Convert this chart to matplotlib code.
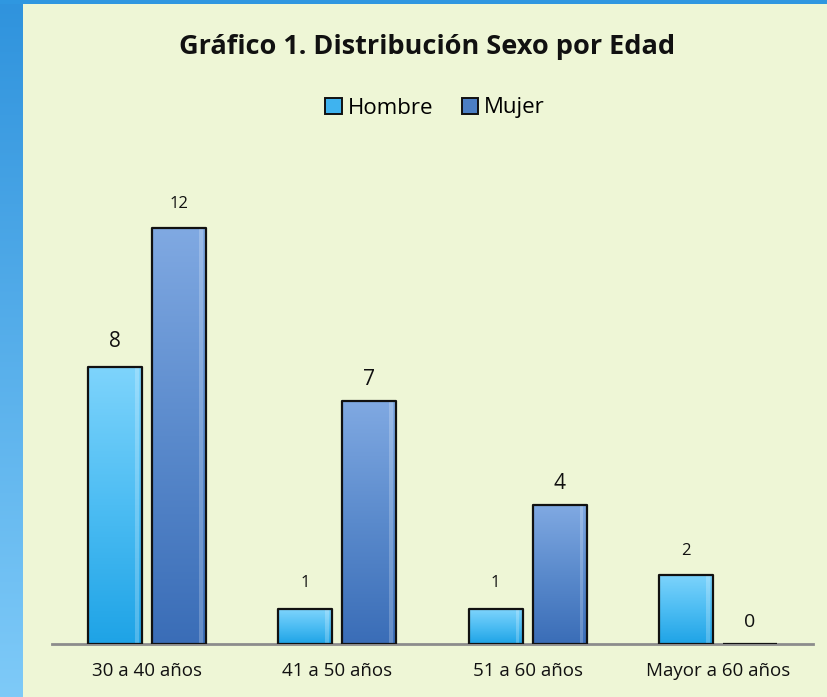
import numpy as np
import matplotlib
matplotlib.use("Agg")
import matplotlib.pyplot as plt
from matplotlib.patches import Patch
from matplotlib.colors import LinearSegmentedColormap

categories = ["30 a 40 años", "41 a 50 años", "51 a 60 años", "Mayor a 60 años"]
hombre = [8, 1, 1, 2]
mujer = [12, 7, 4, 0]
series_names = ["Hombre", "Mujer"]
title = "Gráfico 1. Distribución Sexo por Edad"

W, H = 828, 697
fig = plt.figure(figsize=(W / 100, H / 100), dpi=100)
bg = "#EEF6D6"
fig.patch.set_facecolor(bg)
FONT = ["Open Sans", "DejaVu Sans"]

# blue frame strips
grad = np.linspace(0, 1, 256).reshape(-1, 1)
strip_cmap = LinearSegmentedColormap.from_list("s", ["#2F93DD", "#7ECAF8"])
ax_l = fig.add_axes([0, 0, 23 / W, 1])
ax_l.imshow(grad, cmap=strip_cmap, aspect="auto", extent=[0, 1, 1, 0])
ax_l.axis("off")
ax_t = fig.add_axes([0, 1 - 4 / H, 1, 4 / H])
ax_t.set_facecolor("#2F97E0")
ax_t.set_xticks([]); ax_t.set_yticks([])
for s in ax_t.spines.values():
    s.set_visible(False)

# main axes
x0, x1 = 52, 813
yb, yt = 644, 160
ax = fig.add_axes([x0 / W, (H - yb) / H, (x1 - x0) / W, (yb - yt) / H])
ax.set_facecolor("none")
px_per_unit = (644 - 228) / 12
ax.set_ylim(0, (yb - yt) / px_per_unit)
ax.set_xlim(-0.5, len(categories) - 0.5)

width = 0.284
off = 0.168
x = np.arange(len(categories))

cm_h = LinearSegmentedColormap.from_list("h", ["#1EA3E6", "#4DBDF3", "#7ED4FC"])
cm_m = LinearSegmentedColormap.from_list("m", ["#3A6DB7", "#5A8ACC", "#80A9E2"])

def draw(series, xs, cmap):
    bars = ax.bar(xs, series, width, facecolor="none", edgecolor="#111111",
                  linewidth=1.6, zorder=4, joinstyle="round")
    for b, v in zip(bars, series):
        if v <= 0:
            continue
        bx = b.get_x()
        im = ax.imshow(grad, cmap=cmap, aspect="auto",
                       extent=[bx, bx + width, 0, v], origin="lower", zorder=3)
        im.set_clip_path(b)
        ax.fill_between([bx + width * 0.87, bx + width * 0.94], 0, v,
                        color="white", alpha=0.22, zorder=3.5, linewidth=0)
    return bars

draw(hombre, x - off, cm_h)
draw(mujer, x + off, cm_m)

big = 15
small = 12
h_sizes = [big, small, small, small]
m_sizes = [small, big, big, 14]
h_offs = [25, 26, 26, 24]
m_offs = [24, 22, 22, 22]
for i in range(len(categories)):
    ax.annotate(str(hombre[i]), (x[i] - off, hombre[i]), xytext=(0, h_offs[i]),
                textcoords="offset pixels", ha="center", va="center",
                fontsize=h_sizes[i], family=FONT, color="#111111")
    ax.annotate(str(mujer[i]), (x[i] + off, mujer[i]), xytext=(0, m_offs[i]),
                textcoords="offset pixels", ha="center", va="center",
                fontsize=m_sizes[i], family=FONT, color="#111111")

ax.set_xticks(x)
ax.set_xticklabels(categories, family=FONT, fontsize=13.5, color="#111111")
ax.tick_params(axis="x", length=0, pad=13)
ax.set_yticks([])
for s in ["left", "right", "top"]:
    ax.spines[s].set_visible(False)
ax.spines["bottom"].set_color("#8C8C8C")
ax.spines["bottom"].set_linewidth(2)

fig.text(427 / W, 1 - 47 / H, title, ha="center", va="center",
         fontsize=19.5, fontweight="bold", family=FONT, color="#111111")

handles = [Patch(facecolor="#3FB3EF", edgecolor="#111111", linewidth=1.4),
           Patch(facecolor="#4C7FC4", edgecolor="#111111", linewidth=1.4)]
fig.legend(handles, series_names, loc="center", bbox_to_anchor=(435 / W, 1 - 108 / H),
           ncol=2, frameon=False, handlelength=0.75, handleheight=0.75,
           handletextpad=0.25, columnspacing=1.3,
           prop={"family": FONT, "size": 16})

fig.savefig("out.png", dpi=100, facecolor=bg)
